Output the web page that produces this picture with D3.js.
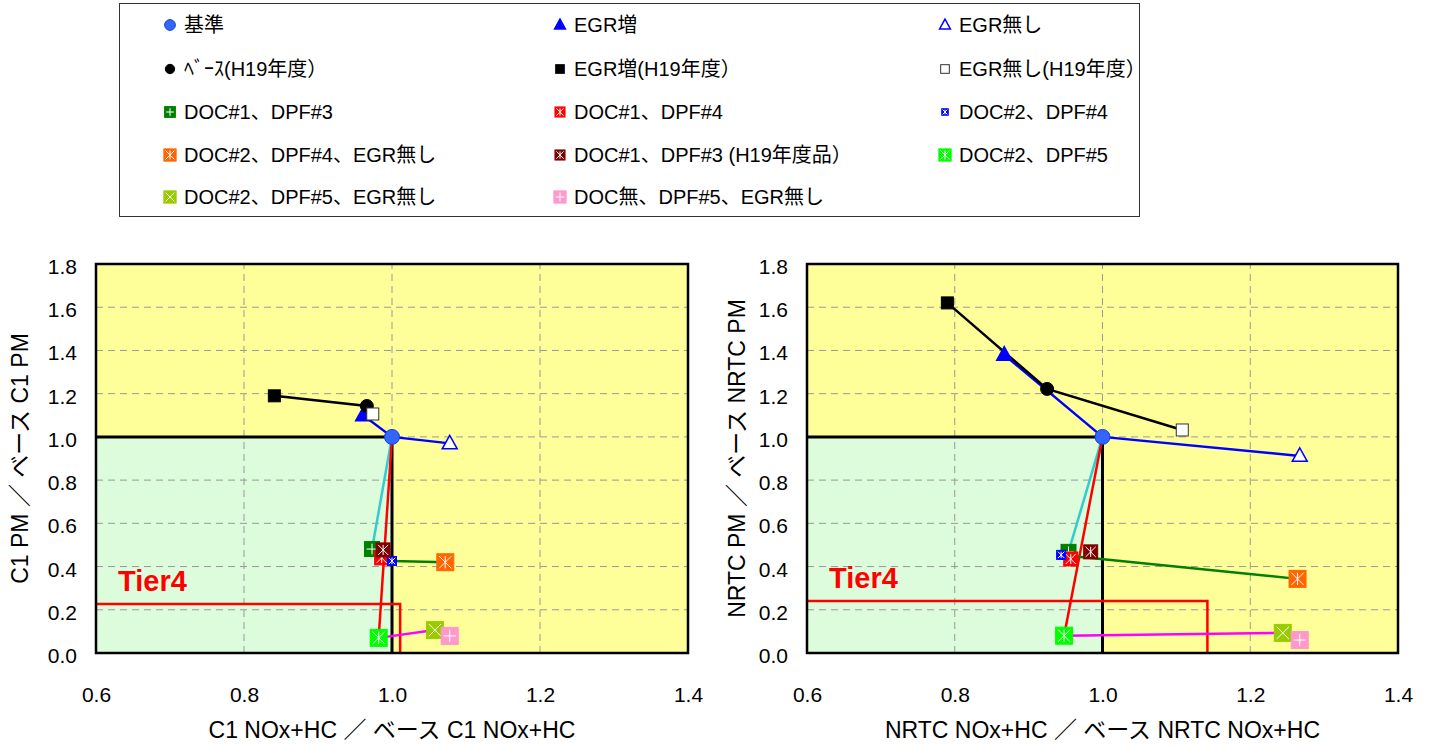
<!DOCTYPE html>
<html>
<head>
<meta charset="utf-8">
<script src="https://cdn.jsdelivr.net/npm/d3@7"></script>
<style>
  html, body { margin: 0; padding: 0; background: #ffffff; }
  svg { display: block; font-family: "Liberation Sans", "Noto Sans CJK JP", sans-serif; }
</style>
</head>
<body>
<svg id="chart" width="1433" height="746"></svg>
<script>
// Series names, in legend order
const seriesNames = [
  "基準", "EGR増", "EGR無し",
  "ﾍﾞｰｽ(H19年度）", "EGR増(H19年度）", "EGR無し(H19年度）",
  "DOC#1、DPF#3", "DOC#1、DPF#4", "DOC#2、DPF#4",
  "DOC#2、DPF#4、EGR無し", "DOC#1、DPF#3 (H19年度品）", "DOC#2、DPF#5",
  "DOC#2、DPF#5、EGR無し", "DOC無、DPF#5、EGR無し"
];

// C1 mode, ratios to the base engine
const c1Nox = [1.000, 0.961, 1.078, 0.966, 0.841, 0.974, 0.973, 0.986, 1.000, 1.072, 0.988, 0.982, 1.058, 1.078];
const c1Pm  = [1.000, 1.100, 0.970, 1.143, 1.190, 1.106, 0.481, 0.440, 0.426, 0.420, 0.477, 0.070, 0.106, 0.079];

// NRTC mode, ratios to the base engine
const nrtcNox = [1.000, 0.867, 1.267, 0.925, 0.790, 1.108, 0.954, 0.957, 0.944, 1.264, 0.984, 0.948, 1.244, 1.267];
const nrtcPm  = [1.000, 1.380, 0.912, 1.222, 1.620, 1.032, 0.468, 0.435, 0.454, 0.343, 0.468, 0.080, 0.093, 0.060];

// Tier4 limits expressed as ratios to the base engine
const tier4C1   = { nox: 1.011, pm: 0.227 };
const tier4Nrtc = { nox: 1.142, pm: 0.241 };

// Connecting lines: series index paths and colours
const connectors = [
  { path: [1, 0, 2],  color: "#0000ff" },
  { path: [4, 3, 5],  color: "#000000" },
  { path: [0, 6],     color: "#33cccc" },
  { path: [0, 11],    color: "#ff0000" },
  { path: [8, 9],     color: "#008000" },
  { path: [11, 12],   color: "#ff00ff" }
];

// Axis ticks
const xTicks = [0.6, 0.8, 1.0, 1.2, 1.4];
const yTicks = [0.0, 0.2, 0.4, 0.6, 0.8, 1.0, 1.2, 1.4, 1.6, 1.8];

// Marker appearance per series
const markerStyle = [
  { shape: "circle",   fill: "#3366ff", stroke: "#1a3fd9", size: 15 },
  { shape: "triangle", fill: "#0000ff", stroke: "#0000ff", size: 15 },
  { shape: "triangle", fill: "#ffffff", stroke: "#0000ff", size: 15 },
  { shape: "circle",   fill: "#000000", stroke: "#000000", size: 13 },
  { shape: "square",   fill: "#000000", stroke: "#000000", size: 12 },
  { shape: "square",   fill: "#ffffff", stroke: "#333333", size: 12 },
  { shape: "square",   fill: "#008000", stroke: "#008000", size: 15, glyph: "plus" },
  { shape: "square",   fill: "#ff0000", stroke: "#ff0000", size: 14, glyph: "star" },
  { shape: "square",   fill: "#0000ff", stroke: "#0000ff", size: 9,  glyph: "star" },
  { shape: "square",   fill: "#ff6600", stroke: "#ff6600", size: 17, glyph: "star" },
  { shape: "square",   fill: "#800000", stroke: "#800000", size: 14, glyph: "star" },
  { shape: "square",   fill: "#00ff00", stroke: "#00ff00", size: 17, glyph: "star" },
  { shape: "square",   fill: "#99cc00", stroke: "#99cc00", size: 17, glyph: "cross" },
  { shape: "square",   fill: "#ff99cc", stroke: "#ff99cc", size: 17, glyph: "plus" }
];

const svg = d3.select("#chart");

function drawMarker(g, cx, cy, st, scale) {
  const s = st.size * scale;
  const h = s / 2;
  const m = g.append("g").attr("transform", `translate(${cx},${cy})`);
  if (st.shape === "circle") {
    m.append("circle").attr("r", h).attr("fill", st.fill).attr("stroke", st.stroke).attr("stroke-width", 1);
  } else if (st.shape === "triangle") {
    const th = s * 0.9;
    m.append("path")
      .attr("d", `M0,${-th * 0.6}L${h},${th * 0.4}L${-h},${th * 0.4}Z`)
      .attr("fill", st.fill).attr("stroke", st.stroke).attr("stroke-width", 1.5);
  } else {
    m.append("rect").attr("x", -h).attr("y", -h).attr("width", s).attr("height", s)
      .attr("fill", st.fill).attr("stroke", st.stroke).attr("stroke-width", 1);
    const k = h * 0.72;
    const lines = [];
    if (st.glyph === "plus" || st.glyph === "star") lines.push([0, -k, 0, k]);
    if (st.glyph === "plus") lines.push([-k, 0, k, 0]);
    if (st.glyph === "star" || st.glyph === "cross") {
      lines.push([-k, -k, k, k]);
      lines.push([-k, k, k, -k]);
    }
    lines.forEach(l => m.append("line")
      .attr("x1", l[0]).attr("y1", l[1]).attr("x2", l[2]).attr("y2", l[3])
      .attr("stroke", "#ffffff").attr("stroke-width", 1));
  }
}

function drawPanel(cfg) {
  const x = d3.scaleLinear().domain([0.6, 1.4]).range([cfg.left, cfg.right]);
  const y = d3.scaleLinear().domain([0, 1.8]).range([cfg.bottom, cfg.top]);
  const g = svg.append("g");

  // Plot background and the compliant region
  g.append("rect").attr("x", x(0.6)).attr("y", y(1.8))
    .attr("width", x(1.4) - x(0.6)).attr("height", y(0) - y(1.8)).attr("fill", "#ffff99");
  g.append("rect").attr("x", x(0.6)).attr("y", y(1.0))
    .attr("width", x(1.0) - x(0.6)).attr("height", y(0) - y(1.0)).attr("fill", "#dcfcdc");

  // Dashed grid
  g.selectAll(".gx").data(xTicks.slice(1, -1)).enter().append("line")
    .attr("x1", d => x(d)).attr("x2", d => x(d)).attr("y1", y(0)).attr("y2", y(1.8))
    .attr("stroke", "#999999").attr("stroke-width", 1).attr("stroke-dasharray", "7,5");
  g.selectAll(".gy").data(yTicks.slice(1, -1)).enter().append("line")
    .attr("x1", x(0.6)).attr("x2", x(1.4)).attr("y1", d => y(d)).attr("y2", d => y(d))
    .attr("stroke", "#999999").attr("stroke-width", 1).attr("stroke-dasharray", "7,5");

  // Base-ratio boundary lines
  g.append("path")
    .attr("d", d3.line()([[x(0.6), y(1.0)], [x(1.0), y(1.0)], [x(1.0), y(0)]]))
    .attr("fill", "none").attr("stroke", "#000000").attr("stroke-width", 3);

  // Tier4 limit box
  g.append("path")
    .attr("d", d3.line()([[x(0.6), y(cfg.tier4.pm)], [x(cfg.tier4.nox), y(cfg.tier4.pm)], [x(cfg.tier4.nox), y(0)]]))
    .attr("fill", "none").attr("stroke", "#ff0000").attr("stroke-width", 2.5);
  g.append("text").attr("x", x(0.6) + 22).attr("y", y(cfg.tier4.pm) - 13)
    .attr("fill", "#ff0000").attr("font-weight", "bold").attr("font-size", 29).text("Tier4");

  // Connecting lines
  const line = d3.line().x(i => x(cfg.nox[i])).y(i => y(cfg.pm[i]));
  connectors.forEach(c => {
    g.append("path").attr("d", line(c.path))
      .attr("fill", "none").attr("stroke", c.color).attr("stroke-width", 2.5);
  });

  // Markers
  seriesNames.forEach((name, i) => {
    drawMarker(g, x(cfg.nox[i]), y(cfg.pm[i]), markerStyle[i], 1);
  });

  // Frame
  g.append("rect").attr("x", x(0.6)).attr("y", y(1.8))
    .attr("width", x(1.4) - x(0.6)).attr("height", y(0) - y(1.8))
    .attr("fill", "none").attr("stroke", "#000000").attr("stroke-width", 2.5);

  // Axes (labels only; the frame provides the axis line)
  const xAxis = d3.axisBottom(x).tickValues(xTicks).tickFormat(d3.format(".1f")).tickSize(0).tickPadding(34);
  const ax = g.append("g").attr("transform", `translate(0,${y(0)})`).call(xAxis);
  ax.select(".domain").remove();
  ax.selectAll("text").attr("font-size", 21).attr("fill", "#000").attr("font-family", null);

  const yAxis = d3.axisLeft(y).tickValues(yTicks).tickFormat(d3.format(".1f")).tickSize(0).tickPadding(19);
  const ay = g.append("g").attr("transform", `translate(${x(0.6)},0)`).call(yAxis);
  ay.select(".domain").remove();
  ay.selectAll("text").attr("font-size", 21).attr("fill", "#000").attr("font-family", null).attr("dy", "0.45em");

  // Axis titles
  g.append("text").attr("x", (cfg.left + cfg.right) / 2).attr("y", 738)
    .attr("text-anchor", "middle").attr("font-size", 23).text(cfg.xTitle);
  g.append("text")
    .attr("transform", `translate(${cfg.yTitleX},${(cfg.top + cfg.bottom) / 2}) rotate(-90)`)
    .attr("text-anchor", "middle").attr("font-size", 23).text(cfg.yTitle);
}

drawPanel({
  left: 96, right: 688, top: 264, bottom: 653,
  nox: c1Nox, pm: c1Pm, tier4: tier4C1,
  xTitle: "C1 NOx+HC ／ ベース C1 NOx+HC",
  yTitle: "C1 PM ／ ベース C1 PM", yTitleX: 28
});
drawPanel({
  left: 807, right: 1398, top: 264, bottom: 653,
  nox: nrtcNox, pm: nrtcPm, tier4: tier4Nrtc,
  xTitle: "NRTC NOx+HC ／ ベース NRTC NOx+HC",
  yTitle: "NRTC PM ／ ベース NRTC PM", yTitleX: 745
});

// Legend
const legend = svg.append("g");
legend.append("rect").attr("x", 119.5).attr("y", 3.5).attr("width", 1020).attr("height", 213)
  .attr("fill", "#ffffff").attr("stroke", "#333333").attr("stroke-width", 1);
const colX = [170, 560, 945];
const rowY = [25, 69, 112, 155, 197];
seriesNames.forEach((name, i) => {
  const cx = colX[i % 3], cy = rowY[Math.floor(i / 3)];
  drawMarker(legend, cx, cy, markerStyle[i], 0.72);
  legend.append("text").attr("x", cx + 14).attr("y", cy + 7)
    .attr("font-size", 20).text(name);
});
</script>
</body>
</html>
